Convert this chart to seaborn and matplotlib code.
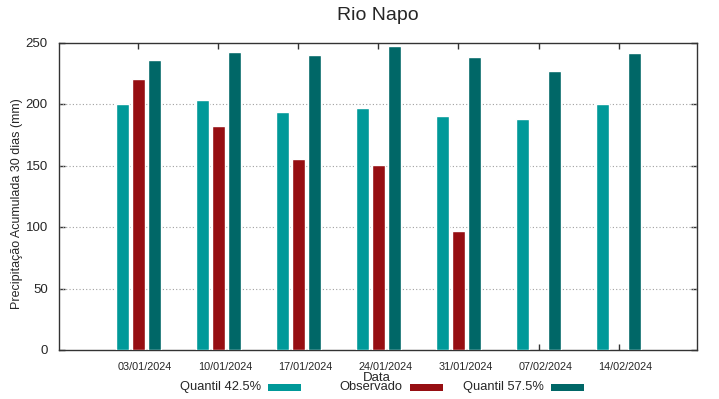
import numpy as np
import pandas as pd
import matplotlib
matplotlib.use('Agg')
import matplotlib.pyplot as plt
import matplotlib.transforms as mtransforms
from matplotlib.patches import Rectangle
import seaborn as sns

dates = ['03/01/2024', '10/01/2024', '17/01/2024', '24/01/2024',
         '31/01/2024', '07/02/2024', '14/02/2024']
q425 = [200, 203.5, 193.5, 196.5, 190, 187.5, 200]
obs = [220.5, 182, 155.5, 150.5, 96.5, np.nan, np.nan]
q575 = [235.5, 242.5, 239.5, 247, 238.5, 226.5, 241.5]
series = ['Quantil 42.5%', 'Observado', 'Quantil 57.5%']
colors = ['#009999', '#960e12', '#006767']
yticks = [0, 50, 100, 150, 200, 250]

df = pd.DataFrame({
    'Data': dates * 3,
    'valor': q425 + obs + q575,
    'serie': [s for s in series for _ in dates],
})

sns.set_style('white')
plt.rcParams['font.family'] = ['Liberation Sans', 'DejaVu Sans']

W, H = 719, 399
fig = plt.figure(figsize=(W / 100, H / 100), dpi=100)
ax = fig.add_axes([59 / W, 1 - 350 / H, (697 - 59) / W, (350 - 42.5) / H])

sns.barplot(data=df, x='Data', y='valor', hue='serie', hue_order=series,
            order=dates, palette=colors, width=0.6, gap=0.17,
            errorbar=None, legend=False, saturation=1, ax=ax, zorder=3)

ax.set_xlim(-0.99, 6.98)
ax.set_ylim(0, 250)
ax.set_yticks(yticks)
ax.set_yticklabels([str(v) for v in yticks], fontsize=9.5)
ax.set_xlabel('')
ax.set_ylabel('')
ax.tick_params(axis='both', direction='in', length=4, width=1, color='#333333',
               top=True, right=True, bottom=True, left=True)
ax.tick_params(axis='x', labelsize=7.8, pad=9)
ax.tick_params(axis='y', pad=8)

offset = mtransforms.ScaledTranslation(7 / 100, 0, fig.dpi_scale_trans)
for lab in ax.get_xticklabels():
    lab.set_transform(lab.get_transform() + offset)

for v in yticks[1:-1]:
    ax.axhline(v, color='#a0a0a0', lw=0.8, ls=(0, (1, 2)), zorder=1)

for s in ax.spines.values():
    s.set_color('#333333')
    s.set_linewidth(1)
    s.set_visible(True)

fig.text(17 / W, 1 - 204 / H, 'Precipitação Acumulada 30 dias (mm)',
         rotation=90, ha='center', va='center', fontsize=9)
fig.text(378 / W, 1 - 16 / H, 'Rio Napo', ha='center', va='center', fontsize=14)
fig.text(377 / W, 1 - 378 / H, 'Data', ha='center', va='center', fontsize=9.5)

leg_y = 387
text_right = [261, 402, 544]
sw_left = [268, 410, 551]
for name, col, tr, sl in zip(series, colors, text_right, sw_left):
    fig.text(tr / W, 1 - leg_y / H, name, ha='right', va='center', fontsize=9.3)
    fig.patches.append(Rectangle((sl / W, 1 - (leg_y + 3.5) / H), 33 / W, 7 / H,
                                 transform=fig.transFigure, facecolor=col,
                                 edgecolor='none'))

fig.savefig('out.png', dpi=100)
